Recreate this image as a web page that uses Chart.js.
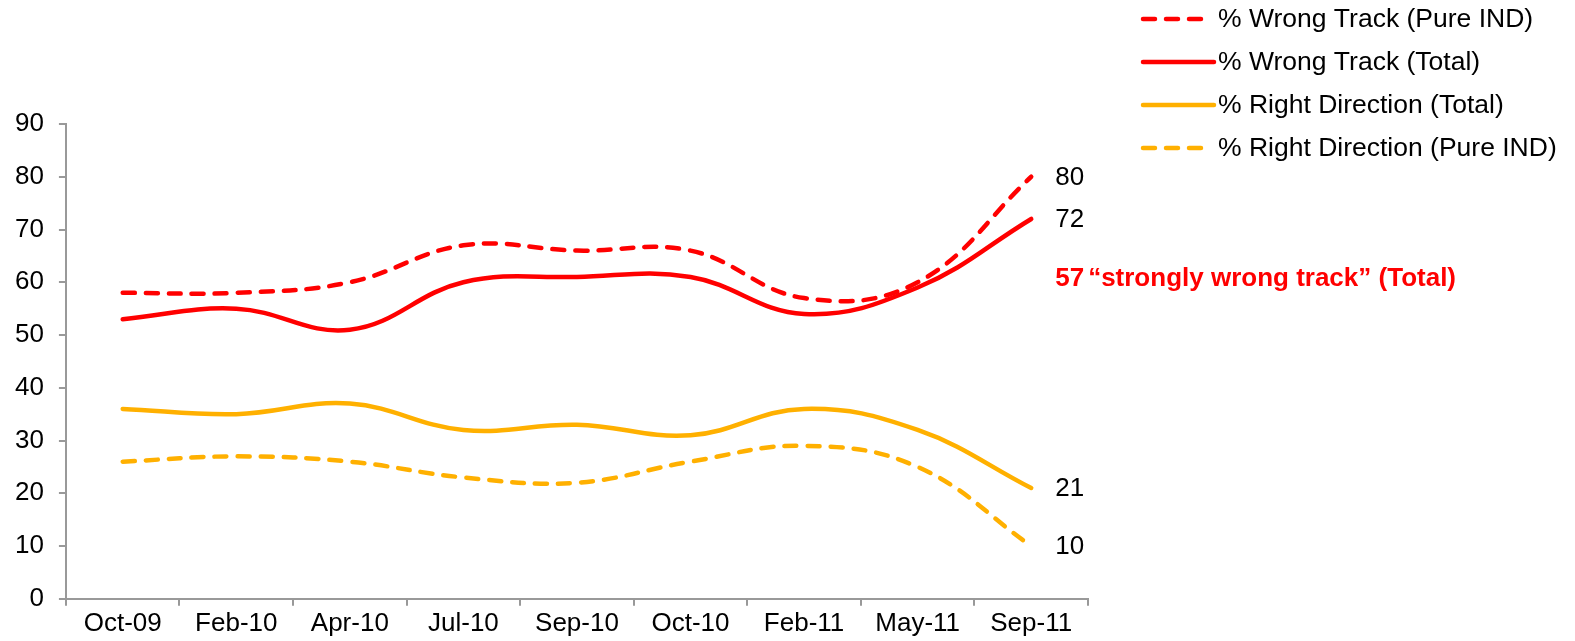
<!DOCTYPE html>
<html>
<head>
<meta charset="utf-8">
<script src="https://cdn.jsdelivr.net/npm/chart.js@4/dist/chart.umd.min.js"></script>
<style>
  html, body { margin: 0; padding: 0; background: #fff; }
  #wrap { width: 1575px; height: 641px; }
</style>
</head>
<body>
<div id="wrap"><canvas id="myChart" width="1575" height="641"></canvas></div>
<script>
'use strict';

let months = ['Oct-09', 'Feb-10', 'Apr-10', 'Jul-10', 'Sep-10', 'Oct-10', 'Feb-11', 'May-11', 'Sep-11'];
let wrongPure = [58, 58, 60, 67, 66, 66, 57, 60, 80];
let wrongTotal = [53, 55, 51, 60, 61, 61, 54, 59, 72];
let rightTotal = [36, 35, 37, 32, 33, 31, 36, 32, 21];
let rightPure = [26, 27, 26, 23, 22, 26, 29, 25, 10];
let yTicks = [0, 10, 20, 30, 40, 50, 60, 70, 80, 90];
let seriesNames = ['% Wrong Track (Pure IND)', '% Wrong Track (Total)', '% Right Direction (Total)', '% Right Direction (Pure IND)'];
let noteValue = 57;
let noteText = '\u201cstrongly wrong track\u201d (Total)';

let red = '#ff0000';
let orange = '#ffb000';
let font = 'Arial, "Liberation Sans", sans-serif';

function makeSet(name, data, color, dashed) {
  return {
    label: name,
    data: data,
    borderColor: color,
    backgroundColor: color,
    borderWidth: 4.5,
    borderDash: dashed ? [12, 11] : [],
    borderCapStyle: 'round',
    pointRadius: 0,
    tension: 0.4,
    fill: false
  };
}

// end labels and the red note
let endLabels = {
  id: 'endLabels',
  afterDatasetsDraw(chart) {
    let ctx = chart.ctx;
    let xs = chart.scales.x;
    let ys = chart.scales.y;
    let last = months.length - 1;
    let x = xs.getPixelForValue(last) + 24;
    ctx.save();
    ctx.textBaseline = 'middle';
    ctx.textAlign = 'left';
    ctx.font = '26px ' + font;
    ctx.fillStyle = '#000';
    [wrongPure, wrongTotal, rightTotal, rightPure].forEach(function (arr) {
      ctx.fillText(String(arr[last]), x, ys.getPixelForValue(arr[last]) + 1);
    });
    ctx.font = 'bold 26px ' + font;
    ctx.fillStyle = red;
    let ny = ys.getPixelForValue(60.6);
    ctx.fillText(String(noteValue), x, ny);
    let w = ctx.measureText(String(noteValue)).width;
    ctx.fillText(noteText, x + w + 4, ny);
    ctx.restore();
  }
};

// legend drawn at top right like the original
let sideLegend = {
  id: 'sideLegend',
  afterDraw(chart) {
    let ctx = chart.ctx;
    let sets = chart.data.datasets;
    ctx.save();
    ctx.font = '26.5px ' + font;
    ctx.textBaseline = 'middle';
    for (let i = 0; i < sets.length; i++) {
      let y = 19 + i * 43;
      let dashed = sets[i].borderDash.length > 0;
      ctx.strokeStyle = sets[i].borderColor;
      ctx.lineWidth = 4.5;
      ctx.lineCap = 'round';
      ctx.setLineDash(dashed ? [12, 11] : []);
      ctx.beginPath();
      ctx.moveTo(1143, y);
      ctx.lineTo(dashed ? 1208 : 1214, y);
      ctx.stroke();
      ctx.setLineDash([]);
      ctx.fillStyle = '#000';
      ctx.fillText(sets[i].label, 1218, y + 1);
    }
    ctx.restore();
  }
};

let ctx = document.getElementById('myChart').getContext('2d');
let myChart = new Chart(ctx, {
  type: 'line',
  data: {
    labels: months,
    datasets: [
      makeSet(seriesNames[0], wrongPure, red, true),
      makeSet(seriesNames[1], wrongTotal, red, false),
      makeSet(seriesNames[2], rightTotal, orange, false),
      makeSet(seriesNames[3], rightPure, orange, true)
    ]
  },
  options: {
    responsive: false,
    animation: false,
    layout: { padding: { top: 124, right: 487, left: 0, bottom: 0 } },
    plugins: {
      legend: { display: false },
      tooltip: { enabled: false }
    },
    scales: {
      x: {
        offset: true,
        grid: {
          offset: true,
          drawOnChartArea: false,
          color: '#999',
          tickLength: 7,
          lineWidth: 2
        },
        border: { color: '#999', width: 2 },
        ticks: { color: '#000', font: { size: 26, family: font }, padding: 2, maxRotation: 0 }
      },
      y: {
        min: 0,
        max: 90,
        afterBuildTicks(axis) {
          axis.ticks = yTicks.map(function (v) { return { value: v }; });
        },
        grid: {
          drawOnChartArea: false,
          color: '#999',
          tickLength: 7,
          lineWidth: 2
        },
        border: { color: '#999', width: 2 },
        ticks: { color: '#000', font: { size: 26, family: font }, padding: 15 }
      }
    }
  },
  plugins: [endLabels, sideLegend]
});
</script>
</body>
</html>
